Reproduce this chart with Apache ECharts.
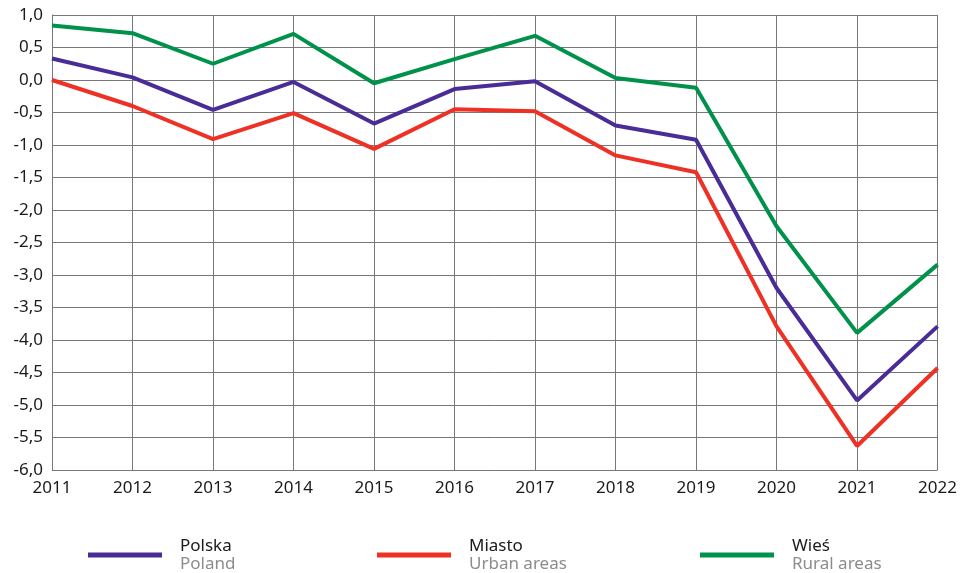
<!DOCTYPE html>
<html><head><meta charset="utf-8">
<script src="https://cdn.jsdelivr.net/npm/echarts@6/dist/echarts.min.js"></script>
<style>html,body{margin:0;padding:0;background:#fff}#c{width:960px;height:573px}</style>
</head><body><div id="c"></div>
<script>
const years = ['2011','2012','2013','2014','2015','2016','2017','2018','2019','2020','2021','2022'];
const polska = [0.33, 0.04, -0.46, -0.03, -0.67, -0.14, -0.02, -0.70, -0.92, -3.20, -4.93, -3.79];
const miasto = [0.00, -0.40, -0.91, -0.51, -1.06, -0.45, -0.48, -1.16, -1.42, -3.79, -5.63, -4.43];
const wies = [0.84, 0.72, 0.25, 0.71, -0.05, 0.32, 0.68, 0.03, -0.12, -2.25, -3.89, -2.84];
const names = [['Polska','Poland'],['Miasto','Urban areas'],['Wieś','Rural areas']];
const colors = ['#4a2c97','#ee3124','#00924a'];
const font = 'Noto Sans';

function mkLegend(i, left){
  return {
    left: left, top: 531, data: [names[i][0]],
    icon: 'rect', itemWidth: 74, itemHeight: 5,
    formatter: n => '{a|' + names[i][0] + '}\n{b|' + names[i][1] + '}',
    textStyle: { rich: {
      a: {fontFamily: font, fontSize: 17, color: '#1a1a1a', lineHeight: 19, padding:[2,0,0,13]},
      b: {fontFamily: font, fontSize: 17, color: '#8c8c8c', lineHeight: 19, padding:[0,0,0,13]}
    }}
  };
}

const chart = echarts.init(document.getElementById('c'));
chart.setOption({
  animation: false,
  grid: { left: 52, right: 22, top: 15, bottom: 103, containLabel: false },
  legend: [mkLegend(0, 83), mkLegend(1, 372), mkLegend(2, 695)],
  xAxis: {
    type: 'category', data: years, boundaryGap: false,
    axisLine: { show: true, lineStyle: { color: '#777', width: 1 } },
    axisTick: { show: false },
    axisLabel: { fontFamily: font, fontSize: 17, color: '#1a1a1a', margin: 10 },
    splitLine: { show: true, lineStyle: { color: '#777', width: 1 } }
  },
  yAxis: {
    type: 'value', min: -6, max: 1, interval: 0.5,
    axisLine: { show: true, lineStyle: { color: '#777', width: 1 } },
    axisTick: { show: false },
    axisLabel: { fontFamily: font, fontSize: 17, color: '#1a1a1a', margin: 9,
      formatter: v => v.toFixed(1).replace('.', ',') },
    splitLine: { show: true, lineStyle: { color: '#777', width: 1 } }
  },
  series: [
    { name: names[0][0], type: 'line', data: polska, color: colors[0], symbol: 'none', lineStyle: { width: 4, color: colors[0] } },
    { name: names[1][0], type: 'line', data: miasto, color: colors[1], symbol: 'none', lineStyle: { width: 4, color: colors[1] } },
    { name: names[2][0], type: 'line', data: wies, color: colors[2], symbol: 'none', lineStyle: { width: 4, color: colors[2] } }
  ]
});
</script></body></html>
